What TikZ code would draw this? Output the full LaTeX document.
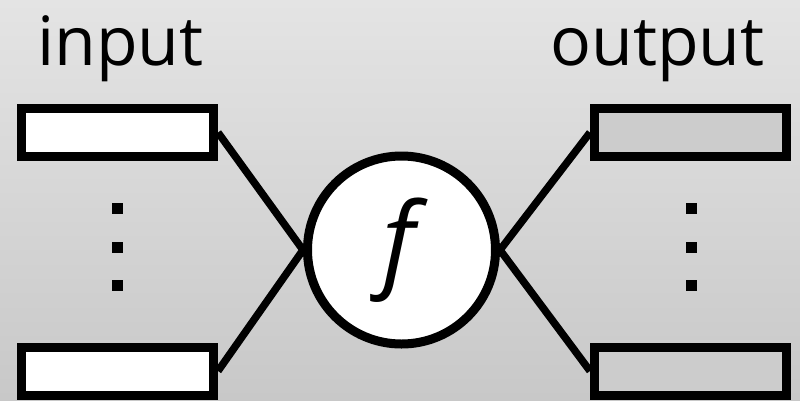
\documentclass[tikz,border=0pt]{standalone}
\usepackage{fontspec}
\setmainfont{Open Sans}
\definecolor{bgtop}{RGB}{228,228,228}
\definecolor{bgbot}{RGB}{200,200,200}
\definecolor{outfill}{RGB}{204,204,204}
\tikzset{
  slot/.style={draw=black, line width=9pt, rectangle, minimum width=192pt, minimum height=48pt, inner sep=0pt},
  inslot/.style={slot, fill=white},
  outslot/.style={slot, fill=outfill},
  func/.style={draw=black, line width=9pt, circle, fill=white, minimum size=188pt, inner sep=0pt, font=\fontsize{104}{110}\selectfont\itshape},
  label/.style={font=\fontsize{68}{78}\selectfont, inner sep=0pt, anchor=base},
  vdot/.style={fill=black, rectangle, minimum size=11pt, inner sep=0pt},
  wire/.style={line width=7.5pt}
}
\begin{document}
\begin{tikzpicture}[x=1pt,y=-1pt]
\shade[top color=bgtop, bottom color=bgbot] (0,0) rectangle (800,400);
\useasboundingbox (0,0) rectangle (800,400);
\node[label] (tin) at (120.5,65) {input};
\node[label] (tout) at (657.5,65) {output};
\node[inslot] (in1) at (117.5,132.5) {};
\node[inslot] (in2) at (117.5,371) {};
\node[outslot] (out1) at (690.5,132.5) {};
\node[outslot] (out2) at (690.5,371) {};
\node[func] (f) at (401.5,250) {\hspace*{-5pt}\raisebox{-5pt}{f}};
\draw[wire] (in1.east) -- (f.west);
\draw[wire] (in2.east) -- (f.west);
\draw[wire] (out1.west) -- (f.east);
\draw[wire] (out2.west) -- (f.east);
\node[vdot] (ld1) at (117,208) {};
\node[vdot] (ld2) at (117,247) {};
\node[vdot] (ld3) at (117,285) {};
\node[vdot] (rd1) at (691,208) {};
\node[vdot] (rd2) at (691,247) {};
\node[vdot] (rd3) at (691,285) {};
\end{tikzpicture}
\end{document}
